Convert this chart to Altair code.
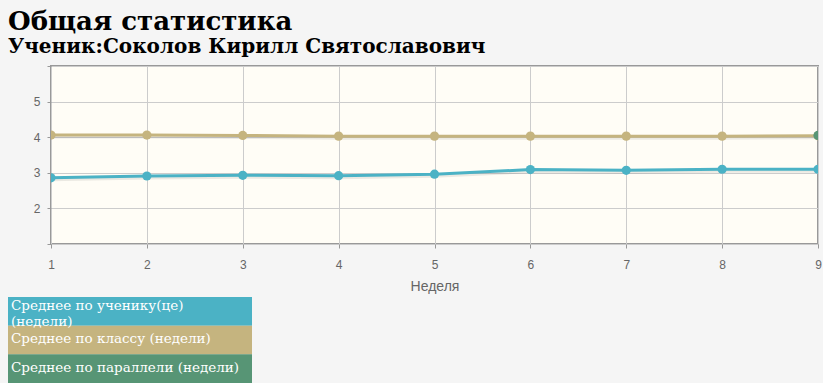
import altair as alt
import pandas as pd

weeks = [1, 2, 3, 4, 5, 6, 7, 8, 9]
student = [2.86, 2.91, 2.93, 2.92, 2.96, 3.09, 3.07, 3.10, 3.10]
klass = [4.06, 4.06, 4.05, 4.03, 4.03, 4.03, 4.03, 4.03, 4.04]
parallel_weeks = [9]
parallel = [4.05]

series_names = [
    "Среднее по ученику(це)\n(недели)",
    "Среднее по классу (недели)",
    "Среднее по параллели (недели)",
]
series_keys = ["student", "class", "parallel"]
colors = ["#4bb2c5", "#c5b47f", "#579575"]

rows = []
for w, v in zip(weeks, student):
    rows.append({"week": w, "value": v, "series": "student"})
for w, v in zip(weeks, klass):
    rows.append({"week": w, "value": v, "series": "class"})
for w, v in zip(parallel_weeks, parallel):
    rows.append({"week": w, "value": v, "series": "parallel"})
df = pd.DataFrame(rows)

color_scale = alt.Scale(domain=series_keys, range=colors)

x_enc = alt.X(
    "week:Q",
    scale=alt.Scale(domain=[1, 9], nice=False),
    axis=alt.Axis(
        values=weeks, format="d", title="Неделя", grid=True, gridColor="#cccccc",
        domain=False, tickSize=4, tickColor="#999999", labelColor="#666666",
        labelFont="Liberation Sans", labelFontSize=12, labelPadding=11,
        labelFlush=False,
        titleFont="Liberation Sans", titleFontSize=14, titleFontWeight="normal",
        titleColor="#666666", titlePadding=9,
    ),
)
y_enc = alt.Y(
    "value:Q",
    scale=alt.Scale(domain=[1, 6], nice=False),
    axis=alt.Axis(
        values=[1, 2, 3, 4, 5, 6], title=None, grid=True, gridColor="#cccccc",
        labelExpr="datum.value == 1 || datum.value == 6 ? '' : datum.label",
        domain=False, tickSize=4, tickColor="#999999", labelColor="#666666",
        labelFont="Liberation Sans", labelFontSize=12, labelPadding=7,
        labelFlush=False, minExtent=42, maxExtent=42,
    ),
)

base = alt.Chart(df).encode(x=x_enc, y=y_enc,
                            color=alt.Color("series:N", scale=color_scale, legend=None),
                            detail="series:N")

shadow = alt.Chart(df).transform_filter("datum.series != 'parallel'").mark_line(
    color="#000000", opacity=0.08, strokeWidth=3, xOffset=1, yOffset=2, clip=True
).encode(x=x_enc, y=y_enc, detail="series:N")

lines = base.transform_filter("datum.series != 'parallel'").mark_line(strokeWidth=3, clip=True)
points = base.mark_circle(size=85, opacity=1, clip=True)

main = alt.layer(shadow, lines, points).properties(
    width=767, height=178,
    view=alt.ViewBackground(fill="#fffdf6", stroke="#999999", strokeWidth=2),
)

leg_df = pd.DataFrame({"label": series_names, "key": series_keys})
leg_y = alt.Y("label:N", sort=series_names, axis=None,
              scale=alt.Scale(paddingInner=0, paddingOuter=0))
leg_rect = alt.Chart(leg_df).mark_rect().encode(
    y=leg_y, x=alt.value(-43), x2=alt.value(201),
    color=alt.Color("key:N", scale=color_scale, legend=None),
)
text_style = dict(align="left", baseline="middle", color="white", font="DejaVu Serif",
                  fontSize=13.5, lineBreak="\n", lineHeight=16, dx=3)
leg_text_multi = alt.Chart(leg_df).transform_filter("datum.key == 'student'").mark_text(
    dy=-5, **text_style
).encode(y=leg_y, x=alt.value(-43), text="label:N")
leg_text_single = alt.Chart(leg_df).transform_filter("datum.key != 'student'").mark_text(
    dy=-1, **text_style
).encode(y=leg_y, x=alt.value(-43), text="label:N")
legend = alt.layer(leg_rect, leg_text_multi, leg_text_single).properties(
    width=201, height=86,
    view=alt.ViewBackground(strokeWidth=0),
)

chart = alt.vconcat(main, legend, spacing=3).properties(
    title=alt.TitleParams(
        text="Общая статистика",
        subtitle="Ученик:Соколов Кирилл Святославович",
        anchor="start", font="DejaVu Serif", fontSize=26, fontWeight="bold",
        color="black", subtitleFont="DejaVu Serif", subtitleFontSize=20,
        subtitleFontWeight="bold", subtitleColor="black", subtitlePadding=2,
        offset=8,
    ),
    padding={"left": 8, "top": 8, "right": 0, "bottom": 0},
    background="#f5f5f5",
).configure_view(strokeWidth=0)

chart.save("out.html", embed_options={"renderer": "svg", "actions": False})
